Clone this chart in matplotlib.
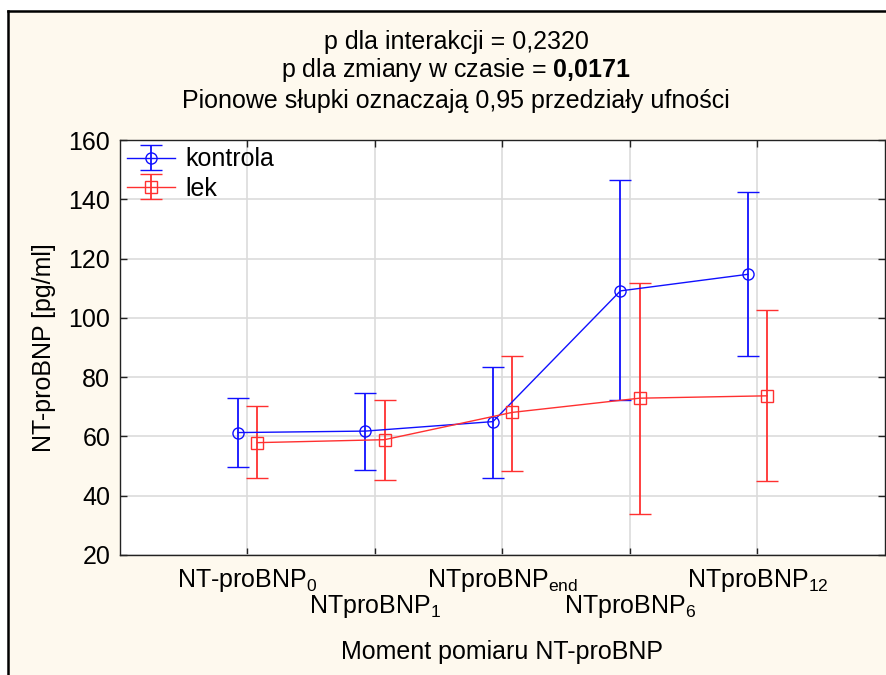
import matplotlib
matplotlib.use("Agg")
import matplotlib.pyplot as plt
from matplotlib.patches import Rectangle
import numpy as np

plt.rcParams['font.family'] = ['Liberation Sans', 'DejaVu Sans']
plt.rcParams['mathtext.fontset'] = 'custom'
plt.rcParams['mathtext.rm'] = 'Liberation Sans'
plt.rcParams['mathtext.it'] = 'Liberation Sans'
plt.rcParams['mathtext.bf'] = 'Liberation Sans:bold'

categories = ['NT-proBNP$_{0}$', 'NTproBNP$_{1}$', 'NTproBNP$_{end}$', 'NTproBNP$_{6}$', 'NTproBNP$_{12}$']
kontrola_mean = [61.3, 61.8, 65.0, 109.1, 114.7]
kontrola_low = [49.7, 48.8, 45.9, 72.3, 87.2]
kontrola_high = [72.9, 74.8, 83.4, 146.5, 142.6]
lek_mean = [57.9, 58.9, 68.1, 72.9, 73.7]
lek_low = [45.9, 45.4, 48.2, 33.8, 44.9]
lek_high = [70.4, 72.3, 87.2, 111.8, 102.7]
yticks = [20, 40, 60, 80, 100, 120, 140, 160]

W, H = 887, 675
FS = 18
fig = plt.figure(figsize=(W / 100, H / 100), dpi=100, facecolor='white')

# cream panel with black left/top border
fig.patches.append(Rectangle((8 / W, 0), 1, 1 - 11 / H, transform=fig.transFigure,
                             facecolor='#FEF9EE', edgecolor='none', zorder=-10))
fig.add_artist(plt.Line2D([8 / W, 8 / W], [0, 1 - 11 / H], transform=fig.transFigure,
                          color='black', lw=1.8))
fig.add_artist(plt.Line2D([8 / W, 1], [1 - 11 / H, 1 - 11 / H], transform=fig.transFigure,
                          color='black', lw=1.8))

ax = fig.add_axes([120 / W, (H - 555) / H, (885 - 120) / W, (555 - 140) / H])
ax.set_facecolor('white')

x = np.arange(len(categories))
off = 0.075

blue = '#1010FF'
red = '#FF3030'

ax.errorbar(x - off, kontrola_mean,
            yerr=[np.array(kontrola_mean) - np.array(kontrola_low),
                  np.array(kontrola_high) - np.array(kontrola_mean)],
            color=blue, lw=1.0, elinewidth=1.3, capsize=8, capthick=1.3,
            marker='o', markersize=8, mfc='none', mec=blue, mew=1.0,
            label='kontrola', zorder=3)
ax.errorbar(x + off, lek_mean,
            yerr=[np.array(lek_mean) - np.array(lek_low),
                  np.array(lek_high) - np.array(lek_mean)],
            color=red, lw=1.0, elinewidth=1.3, capsize=8, capthick=1.3,
            marker='s', markersize=8, mfc='none', mec=red, mew=1.0,
            label='lek', zorder=3)

ax.set_xlim(-1, 5)
ax.set_ylim(20, 160)
ax.set_yticks(yticks)
ax.set_xticks(x)
ax.set_xticklabels([])
ax.grid(True, color='#DCDCDC', lw=1.2, zorder=0)
ax.set_axisbelow(True)
ax.tick_params(direction='in', length=5, top=True, right=True, width=1,
               labelsize=FS, colors='#222222', pad=7)
ax.tick_params(axis='y', labelcolor='black')
for s in ax.spines.values():
    s.set_color('#222222')
    s.set_linewidth(1.0)

# staggered x labels
for i, lab in enumerate(categories):
    ypix = 580 if i % 2 == 0 else 607
    ax.text(i, -(ypix - 555) / (555 - 140), lab, transform=ax.get_xaxis_transform(),
            ha='center', va='center', fontsize=FS)

ax.set_ylabel('NT-proBNP [pg/ml]', fontsize=FS, labelpad=9)
fig.text(502 / W, 1 - 652 / H, 'Moment pomiaru NT-proBNP', ha='center', va='center', fontsize=FS)

fig.text(456 / W, 1 - 42 / H, 'p dla interakcji = 0,2320', ha='center', va='center', fontsize=FS)
fig.text(456 / W, 1 - 70 / H, 'p dla zmiany w czasie = $\\mathbf{0{,}0171}$', ha='center', va='center', fontsize=FS)
fig.text(456 / W, 1 - 101 / H, 'Pionowe słupki oznaczają 0,95 przedziały ufności', ha='center', va='center', fontsize=FS)

leg = ax.legend(loc='upper left', frameon=False, fontsize=FS, handlelength=1.9,
                borderaxespad=0.0, borderpad=0.3, handletextpad=0.4, labelspacing=0.2)

fig.savefig('out.png', dpi=100, facecolor=fig.get_facecolor())
